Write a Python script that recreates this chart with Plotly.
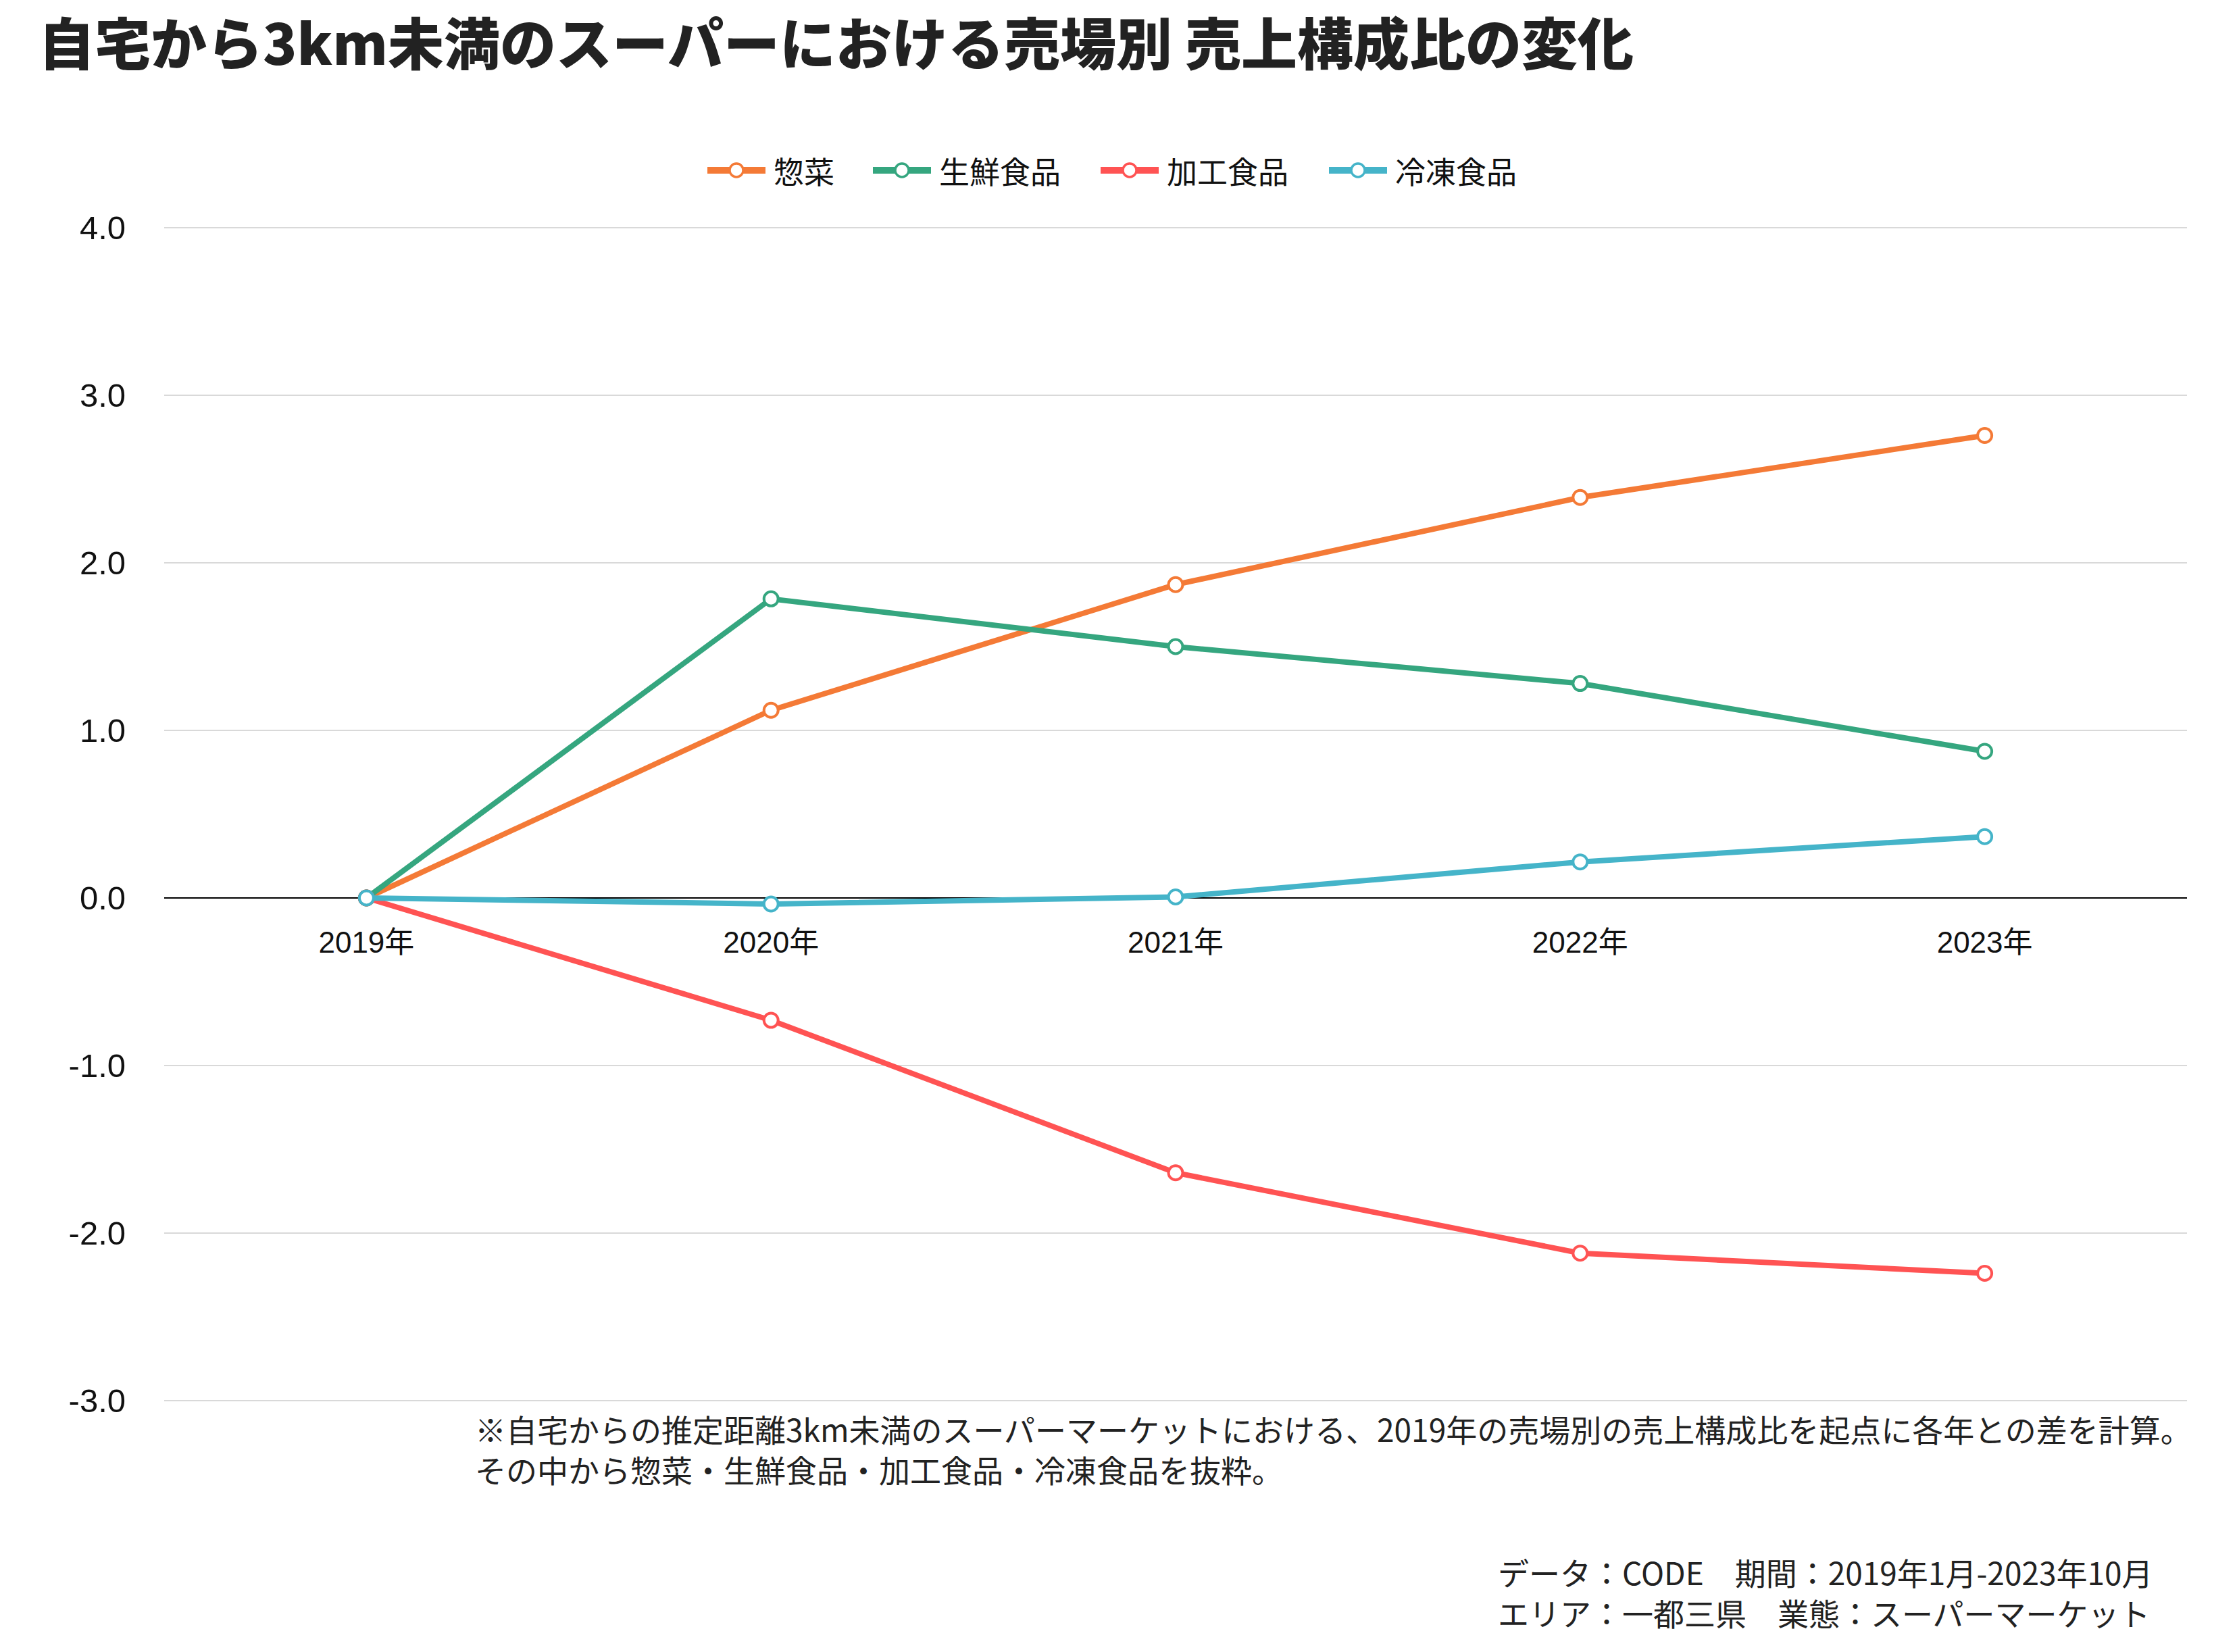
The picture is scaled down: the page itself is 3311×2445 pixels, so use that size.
import plotly.graph_objects as go

years = ["2019年", "2020年", "2021年", "2022年", "2023年"]
sozai = [0.0, 1.12, 1.87, 2.39, 2.76]
seisen = [0.0, 1.785, 1.50, 1.28, 0.875]
kakou = [0.0, -0.73, -1.64, -2.12, -2.24]
reitou = [0.0, -0.036, 0.006, 0.215, 0.366]

series_names = ["惣菜", "生鮮食品", "加工食品", "冷凍食品"]
series_vals = [sozai, seisen, kakou, reitou]
colors = ["#F47A36", "#35A67F", "#FF5353", "#45B4C9"]

y_ticks = [-3, -2, -1, 0, 1, 2, 3, 4]
y_min, y_max = -3, 4

JP = "Noto Sans CJK JP"
TICKF = "Liberation Sans, Arial, Noto Sans CJK JP"

W, H = 3311, 2445
L, R, T, B = 243, 74, 336, 371
ph = H - T - B
pw = W - L - R


def py(pix):
    return (H - B - pix) / ph


def px(pix):
    return (pix - L) / pw


fig = go.Figure()

# gridlines at the range edges (plotly omits them at the border)
for yv in (y_min, y_max):
    fig.add_shape(type="line", xref="paper", yref="y", x0=0, x1=1, y0=yv, y1=yv,
                  line=dict(color="#D9D9D9", width=2), layer="below")

for name, vals, c in zip(series_names, series_vals, colors):
    fig.add_trace(go.Scatter(
        x=years, y=vals, name=name, mode="lines+markers",
        line=dict(color=c, width=8),
        marker=dict(size=21, color="white", line=dict(color=c, width=4)),
        showlegend=False,
    ))

fig.update_layout(
    width=W, height=H,
    margin=dict(l=L, r=R, t=T, b=B, autoexpand=False),
    paper_bgcolor="white", plot_bgcolor="white",
    font=dict(family=JP, size=44, color="#222222"),
    title=dict(
        text="自宅から3km未満のスーパーにおける売場別 売上構成比の変化",
        font=dict(family=JP, size=83, color="#222222", weight=900),
        xref="container", x=57 / W, xanchor="left",
        yref="container", y=1 - 67 / H, yanchor="middle",
    ),
    showlegend=False,
)

fig.update_yaxes(
    range=[y_min - 0.004, y_max + 0.004], tickvals=y_ticks,
    ticktext=[f"{v:.1f}" for v in y_ticks],
    showgrid=True, gridcolor="#D9D9D9", gridwidth=2,
    zeroline=True, zerolinecolor="#000000", zerolinewidth=2,
    showline=False, ticks="", ticklabelstandoff=56,
    tickfont=dict(family=TICKF, size=49, color="#111111"),
)
fig.update_xaxes(
    range=[-0.5, 4.5], showgrid=False, zeroline=False, showline=False,
    anchor="free", position=(0 - (y_min - 0.004)) / (y_max - y_min + 0.008),
    ticks="", ticklabelstandoff=36,
    tickfont=dict(family=TICKF, size=44, color="#111111"),
)

# Legend (drawn manually to match the long line symbols)
leg_starts = [1042, 1287, 1624, 1962]
leg_y = 252
for name, c, x0 in zip(series_names, colors, leg_starts):
    fig.add_shape(type="line", xref="paper", yref="paper",
                  x0=px(x0 + 5), x1=px(x0 + 91), y0=py(leg_y), y1=py(leg_y),
                  line=dict(color=c, width=10))
    fig.add_shape(type="circle", xref="paper", yref="paper",
                  xsizemode="pixel", ysizemode="pixel",
                  xanchor=px(x0 + 48), yanchor=py(leg_y),
                  x0=-10, x1=10, y0=-10, y1=10,
                  fillcolor="white", line=dict(color=c, width=3.5))
    fig.add_annotation(text=name, xref="paper", yref="paper",
                       x=px(x0 + 101), y=py(leg_y), xanchor="left", yanchor="middle",
                       showarrow=False, font=dict(family=JP, size=45, color="#111111"))

notes = [
    ("※自宅からの推定距離3km未満のスーパーマーケットにおける、2019年の売場別の売上構成比を起点に各年との差を計算。"
     "<br>その中から惣菜・生鮮食品・加工食品・冷凍食品を抜粋。", 701, 2144),
    ("データ：CODE　期間：2019年1月-2023年10月<br>エリア：一都三県　業態：スーパーマーケット", 2215, 2356),
]
for text, xp, yp in notes:
    fig.add_annotation(
        text=text, xref="paper", yref="paper", x=px(xp), y=py(yp),
        xanchor="left", yanchor="middle", align="left", showarrow=False,
        font=dict(family=JP, size=46, color="#222222"),
    )

fig.write_html("out.html")
